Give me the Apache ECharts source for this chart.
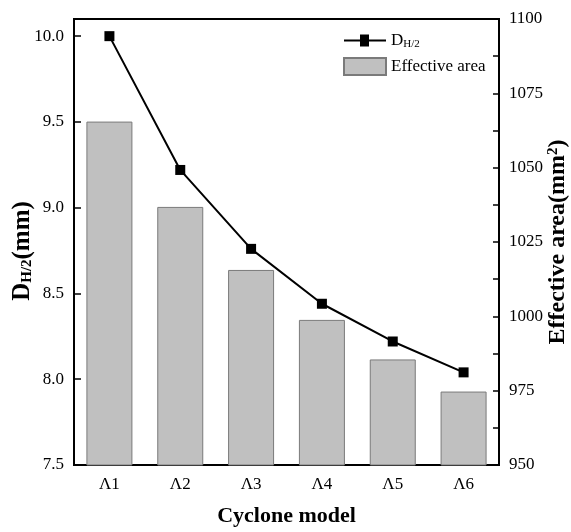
<!DOCTYPE html>
<html lang="en">
<head>
    <meta charset="utf-8">
    <script src="https://cdn.jsdelivr.net/npm/echarts@6/dist/echarts.min.js"></script>
    <style>
        html, body { margin: 0; padding: 0; background: #fff; }
        #main { width: 571px; height: 532px; }
    </style>
</head>
<body>
<div id="main"></div>
<script type="text/javascript">
    var models = ['Λ1', 'Λ2', 'Λ3', 'Λ4', 'Λ5', 'Λ6'];
    var dH2 = [10.0, 9.22, 8.76, 8.44, 8.22, 8.04];
    var effArea = [1065.5, 1036.8, 1015.6, 998.8, 985.5, 974.7];

    var serif = '"Liberation Serif", "Times New Roman", serif';
    var chart = echarts.init(document.getElementById('main'));

    var option = {
        animation: false,
        backgroundColor: '#fff',
        textStyle: { fontFamily: serif },
        grid: {
            left: 74, right: 72, top: 19, bottom: 67,
            outerBoundsMode: 'none',
            containLabel: false,
            show: true, borderColor: '#000', borderWidth: 2
        },
        legend: {
            orient: 'vertical',
            left: 338, top: 27,
            itemGap: 7,
            itemWidth: 42, itemHeight: 17,
            data: [
                { name: 'DH2', icon: 'path://M0,7h16v-5h9v5h17v2h-17v5h-9v-5h-16z', itemStyle: { color: '#000', borderWidth: 0 } },
                { name: 'Effective area', icon: 'rect' }
            ],
            formatter: function (name) {
                return name === 'DH2' ? '{a|D}{b|H/2}' : '{a|Effective area}';
            },
            textStyle: {
                fontFamily: serif,
                color: '#000',
                rich: {
                    a: { fontSize: 17, fontFamily: serif, color: '#000' },
                    b: { fontSize: 11, fontFamily: serif, color: '#000', verticalAlign: 'bottom', padding: [8, 0, 0, 0] }
                }
            }
        },
        xAxis: {
            type: 'category',
            data: models,
            name: 'Cyclone model',
            nameLocation: 'middle',
            nameGap: 40,
            nameMoveOverlap: false,
            nameTextStyle: { fontFamily: serif, fontSize: 22, fontWeight: 'bold', color: '#000' },
            axisLine: { lineStyle: { color: '#000', width: 2 } },
            axisTick: { show: false },
            axisLabel: { fontFamily: serif, fontSize: 17, color: '#000', margin: 11 }
        },
        yAxis: [{
            type: 'value',
            min: 7.5, max: 10.1, interval: 0.5,
            name: '{a|D}{b|H/2}{a|(mm)}',
            nameLocation: 'middle',
            nameRotate: 90,
            nameGap: 39,
            nameMoveOverlap: false,
            nameTextStyle: {
                padding: [0, 18, 0, 0],
                rich: {
                    a: { fontFamily: serif, fontSize: 25, fontWeight: 'bold', color: '#000' },
                    b: { fontFamily: serif, fontSize: 15, fontWeight: 'bold', color: '#000', verticalAlign: 'bottom', padding: [10, 0, 0, 0] }
                }
            },
            axisLine: { show: true, lineStyle: { color: '#000', width: 2 } },
            axisTick: { show: true, inside: true, length: 7, lineStyle: { color: '#000', width: 1.5 } },
            axisLabel: {
                fontFamily: serif, fontSize: 17, color: '#000', margin: 10,
                showMaxLabel: false,
                formatter: function (v) { return v.toFixed(1); }
            },
            splitLine: { show: false }
        }, {
            type: 'value',
            min: 950, max: 1100, interval: 25,
            name: '{a|Effective area(mm}{s|2}{a|)}',
            nameLocation: 'middle',
            nameRotate: 90,
            nameGap: 47,
            nameMoveOverlap: false,
            nameTextStyle: {
                rich: {
                    a: { fontFamily: serif, fontSize: 24, fontWeight: 'bold', color: '#000' },
                    s: { fontFamily: serif, fontSize: 15, fontWeight: 'bold', color: '#000', verticalAlign: 'top', padding: [0, 0, 8, 0] }
                }
            },
            axisLine: { show: true, lineStyle: { color: '#000', width: 2 } },
            axisTick: { show: true, inside: true, length: 6, lineStyle: { color: '#000', width: 1.5 } },
            minorTick: { show: true, splitNumber: 2, length: 6, lineStyle: { color: '#000', width: 1.5 } },
            axisLabel: {
                fontFamily: serif, fontSize: 17, color: '#000', margin: 10,
                formatter: function (v) { return String(v); }
            },
            splitLine: { show: false }
        }],
        series: [{
            name: 'Effective area',
            type: 'bar',
            yAxisIndex: 1,
            barWidth: 46,
            z: 1,
            itemStyle: { color: '#c0c0c0', borderColor: '#7a7a7a', borderWidth: 1 },
            data: effArea
        }, {
            name: 'DH2',
            type: 'line',
            yAxisIndex: 0,
            symbol: 'rect',
            symbolSize: 10,
            z: 3,
            lineStyle: { color: '#000', width: 2 },
            itemStyle: { color: '#000' },
            data: dH2
        }]
    };

    chart.setOption(option);
</script>
</body>
</html>
